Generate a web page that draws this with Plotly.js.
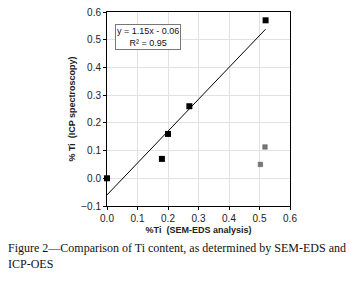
<!DOCTYPE html>
<html><head><meta charset="utf-8">
<script src="https://cdn.plot.ly/plotly-3.0.1.min.js"></script>
<style>html,body{margin:0;padding:0;background:#fff;}#chart{width:362px;height:281px;}</style>
</head><body><div id="chart"></div>
<script>
var blackX = [0, 0.18, 0.2, 0.27, 0.52];
var blackY = [0, 0.07, 0.16, 0.26, 0.57];
var greyX = [0.503, 0.518];
var greyY = [0.05, 0.113];
var trendX = [0, 0.52];
var trendY = [-0.06, 0.538];
var eqText = 'y = 1.15x - 0.06<br>R² = 0.95';
var xTitle = '%Ti  (SEM-EDS analysis)';
var yTitle = '% Ti  (ICP spectroscopy)';
var caption = 'Figure 2—Comparison of Ti content, as determined by SEM-EDS and<br>ICP-OES';

var font = 'Liberation Sans, Arial, sans-serif';
var traces = [
  {x: trendX, y: trendY, mode: 'lines', line: {color: '#000', width: 1}, hoverinfo: 'skip'},
  {x: blackX, y: blackY, mode: 'markers', cliponaxis: false, marker: {symbol: 'square', size: 6, color: '#000'}},
  {x: greyX, y: greyY, mode: 'markers', marker: {symbol: 'square', size: 4.5, color: '#777', line: {color: '#555', width: 0.5}}}
];
var axisCommon = {
  showgrid: true, gridcolor: '#e2e2e2', gridwidth: 1, zeroline: false,
  showline: true, linecolor: '#000', linewidth: 1, mirror: true,
  ticks: 'outside', ticklen: 3, tickcolor: '#000',
  tickfont: {family: font, size: 10, color: '#222'}, tickformat: '.1f'
};
var layout = {
  width: 362, height: 281,
  margin: {l: 106.5, r: 72, t: 12, b: 75},
  paper_bgcolor: '#fff', plot_bgcolor: '#fff',
  showlegend: false,
  xaxis: Object.assign({}, axisCommon, {range: [0, 0.6], dtick: 0.1,
    title: {text: '<b>' + xTitle + '</b>', font: {family: font, size: 9, color: '#222'}, standoff: 3}}),
  yaxis: Object.assign({}, axisCommon, {range: [-0.1, 0.6], dtick: 0.1,
    title: {text: '<b>' + yTitle + '</b>', font: {family: font, size: 9, color: '#222'}, standoff: 4}}),
  annotations: [
    {x: 0.136, y: 0.51, xref: 'x', yref: 'y', text: eqText, showarrow: false,
     font: {family: font, size: 9, color: '#111'}, bgcolor: '#fff', bordercolor: '#777', borderwidth: 1, borderpad: 1, align: 'center'},
    {x: (5 - 106.5) / 183.5, y: (206 - 239) / 194, xref: 'paper', yref: 'paper', xanchor: 'left', yanchor: 'top',
     text: caption, showarrow: false, align: 'left',
     font: {family: 'Liberation Serif, Times New Roman, serif', size: 12, color: '#111'}}
  ]
};
Plotly.newPlot('chart', traces, layout, {staticPlot: true, displayModeBar: false});
</script></body></html>
